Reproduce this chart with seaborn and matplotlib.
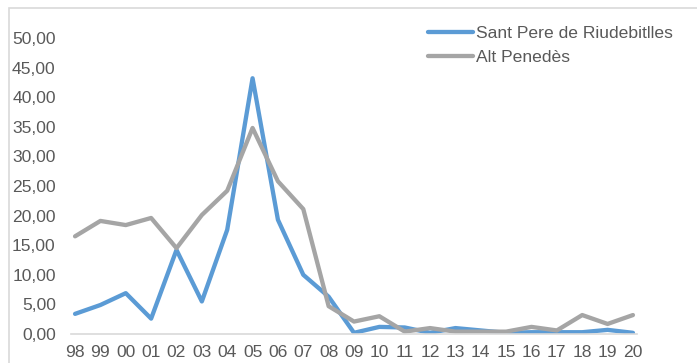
import pandas as pd
import matplotlib.pyplot as plt
import seaborn as sns
from matplotlib.ticker import FuncFormatter
from matplotlib.patches import Rectangle

years = ['98', '99', '00', '01', '02', '03', '04', '05', '06', '07', '08',
         '09', '10', '11', '12', '13', '14', '15', '16', '17', '18', '19', '20']
sant_pere = [3.4, 4.9, 6.9, 2.6, 14.2, 5.5, 17.6, 43.2, 19.3, 10.0, 6.3,
             0.2, 1.2, 1.1, 0.2, 1.0, 0.6, 0.2, 0.3, 0.3, 0.3, 0.7, 0.2]
alt_penedes = [16.5, 19.1, 18.4, 19.6, 14.5, 20.1, 24.2, 34.8, 25.8, 21.1, 4.7,
               2.1, 3.0, 0.4, 1.0, 0.4, 0.4, 0.4, 1.2, 0.6, 3.2, 1.7, 3.2]
series = ['Sant Pere de Riudebitlles', 'Alt Penedès']

df = pd.DataFrame({
    'pos': list(range(len(years))) * 2,
    'valor': sant_pere + alt_penedes,
    'serie': [series[0]] * len(years) + [series[1]] * len(years),
})

sns.set_style("white")
plt.rcParams['font.family'] = ['Liberation Sans', 'DejaVu Sans']
text_color = '#595959'

fig = plt.figure(figsize=(6.97, 3.63), dpi=100)
ax = fig.add_axes([71 / 697, 1 - 334 / 363, (637 - 71) / 697, (334 - 38) / 363])

sns.lineplot(data=df, x='pos', y='valor', hue='serie', palette=['#5B9BD5', '#A5A5A5'],
             linewidth=3.1, ax=ax, legend=False)

ax.set_xlim(-0.16, len(years) - 1 + 0.16)
ax.set_ylim(0, 50)
ax.set_yticks(range(0, 51, 5))
ax.yaxis.set_major_formatter(FuncFormatter(lambda v, p: f"{v:.2f}".replace('.', ',')))
ax.set_xticks(range(len(years)))
ax.set_xticklabels(years)
ax.set_xlabel('')
ax.set_ylabel('')
ax.tick_params(axis='both', length=0, labelsize=12.6, colors=text_color)
ax.tick_params(axis='y', pad=11)
ax.tick_params(axis='x', pad=8)
for s in ['top', 'right', 'left']:
    ax.spines[s].set_visible(False)
ax.spines['bottom'].set_color('#D9D9D9')
ax.spines['bottom'].set_linewidth(1.2)

handles = [plt.Line2D([], [], color='#5B9BD5', lw=3.1, solid_capstyle='round'),
           plt.Line2D([], [], color='#A5A5A5', lw=3.1, solid_capstyle='round')]
leg = fig.legend(handles, series, loc='upper left', bbox_to_anchor=(428 / 697, 1 - 26 / 363),
                 frameon=False, fontsize=12.6, handlelength=2.6, handletextpad=0.15,
                 labelspacing=0.5, borderaxespad=0, borderpad=0)
for t in leg.get_texts():
    t.set_color(text_color)

fig.patches.append(Rectangle((9 / 697, -0.05), 1.1, 1 - 8 / 363 + 0.05, transform=fig.transFigure,
                             fill=False, edgecolor='#D9D9D9', linewidth=1.2))

fig.savefig('out.png', dpi=100)
